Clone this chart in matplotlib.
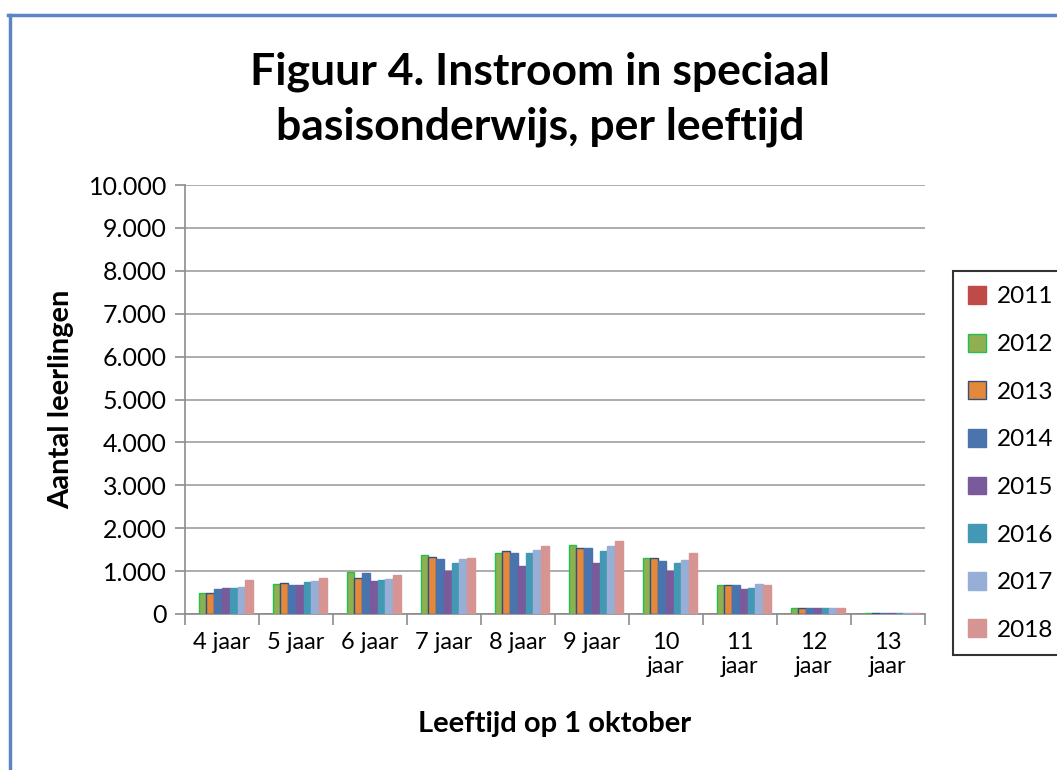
import numpy as np
import matplotlib.pyplot as plt
from matplotlib.lines import Line2D

plt.rcParams['font.family'] = ['Lato', 'DejaVu Sans']

leeftijden = ["4 jaar", "5 jaar", "6 jaar", "7 jaar", "8 jaar", "9 jaar",
              "10\njaar", "11\njaar", "12\njaar", "13\njaar"]
jaren = ["2011", "2012", "2013", "2014", "2015", "2016", "2017", "2018"]

# aantal leerlingen per jaar (2011 heeft geen zichtbare staven)
w2011 = [0, 0, 0, 0, 0, 0, 0, 0, 0, 0]
w2012 = [480, 695, 990, 1365, 1430, 1610, 1305, 665, 150, 30]
w2013 = [500, 725, 845, 1335, 1460, 1550, 1300, 665, 140, 30]
w2014 = [580, 670, 945, 1280, 1430, 1550, 1240, 665, 140, 25]
w2015 = [610, 670, 765, 1005, 1125, 1190, 1000, 580, 140, 25]
w2016 = [610, 735, 795, 1190, 1430, 1460, 1190, 610, 140, 25]
w2017 = [640, 765, 820, 1275, 1490, 1580, 1250, 705, 140, 25]
w2018 = [795, 850, 915, 1305, 1580, 1705, 1430, 670, 145, 30]
waarden = [w2011, w2012, w2013, w2014, w2015, w2016, w2017, w2018]

kleuren = ["#BE4B48", "#8FAF50", "#E4883C", "#4A74AE", "#795A9B", "#4399B3", "#97AED6", "#D69493"]
randen = ["#BE4B48", "#22C050", "#34507F", "#4A74AE", "#795A9B", "#4399B3", "#97AED6", "#D69493"]

fig = plt.figure(figsize=(10.57, 7.70), dpi=100)
ax = fig.add_axes([0.175, 0.2026, 0.700, 0.557])

x = np.arange(len(leeftijden))
breedte = 0.105
for i, (jaar, vals) in enumerate(zip(jaren, waarden)):
    pos = x + (i - 3.5) * breedte
    ax.bar(pos, vals, width=breedte, color=kleuren[i], edgecolor=randen[i],
           linewidth=1.0, label=jaar, zorder=3)

ax.set_xlim(-0.5, len(leeftijden) - 0.5)
ax.set_ylim(0, 10000)
ax.set_yticks(np.arange(0, 10001, 1000))
ax.set_yticklabels([f"{v:,}".replace(",", ".") for v in range(0, 10001, 1000)])
ax.yaxis.grid(True, color="#A6A6A6", linewidth=1.3, zorder=0)

# tickstreepjes op de grenzen, labels in het midden
ax.set_xticks(np.arange(-0.5, len(leeftijden), 1.0))
ax.set_xticklabels([])
ax.set_xticks(x, minor=True)
ax.set_xticklabels(leeftijden, minor=True)
ax.tick_params(axis="x", which="minor", length=0, pad=13, labelsize=17)
ax.tick_params(axis="x", which="major", length=8, color="#8C8C8C", width=1.2)
ax.tick_params(axis="y", length=7, color="#8C8C8C", width=1.2, labelsize=18, pad=6)

for kant in ("top", "right"):
    ax.spines[kant].set_visible(False)
for kant in ("left", "bottom"):
    ax.spines[kant].set_color("#8C8C8C")
    ax.spines[kant].set_linewidth(1.2)

ax.set_ylabel("Aantal leerlingen", fontsize=21, fontweight="bold", labelpad=10)
ax.set_xlabel("Leeftijd op 1 oktober", fontsize=21, fontweight="bold", labelpad=24)

fig.text(0.511, 0.871, "Figuur 4. Instroom in speciaal\nbasisonderwijs, per leeftijd",
         ha="center", va="center", fontsize=32, fontweight="bold", linespacing=1.45)

leg = ax.legend(loc="center left", bbox_to_anchor=(1.022, 0.351), fontsize=17.5,
                frameon=True, fancybox=False, edgecolor="black", handlelength=0.75,
                handleheight=0.75, labelspacing=1.08, borderpad=0.6, handletextpad=0.45)
leg.get_frame().set_linewidth(1.5)

# blauwe rand van het grafiekgebied
fig.add_artist(Line2D([9.5 / 1057, 9.5 / 1057], [0, 1 - 14.5 / 770], transform=fig.transFigure,
                      color="#5B85C4", linewidth=2.5))
fig.add_artist(Line2D([8 / 1057, 1], [1 - 14.5 / 770, 1 - 14.5 / 770], transform=fig.transFigure,
                      color="#5B85C4", linewidth=2.5))

fig.savefig("out.png", dpi=100)
